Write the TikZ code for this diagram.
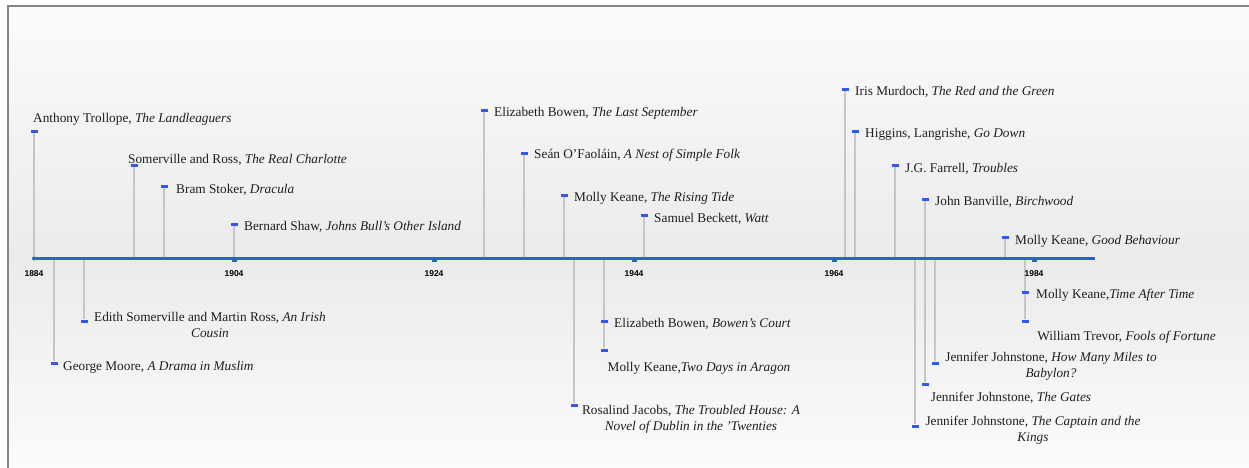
\documentclass[tikz,border=0pt]{standalone}
\usepackage{fontspec}
\usetikzlibrary{backgrounds}
\setmainfont{Liberation Serif}
\newfontfamily\yrfamily{Liberation Sans}
\newcommand{\labfont}{\fontsize{13.3}{16}\selectfont}
\newcommand{\yrfont}{\yrfamily\bfseries\fontsize{8.5}{10}\selectfont}
\definecolor{axisblue}{HTML}{2F62C8}
\definecolor{mkblue}{HTML}{3656F2}
\definecolor{stemgray}{HTML}{C6C6C6}
\definecolor{framegray}{HTML}{858585}
\definecolor{txt}{HTML}{1E1E1E}
\definecolor{bgtop}{HTML}{FBFBFB}
\definecolor{bgmid}{HTML}{EBEBEB}
\begin{document}
\begin{tikzpicture}[x=1pt,y=-1pt,
  lab/.style={font=\labfont, text=txt, inner sep=0pt, anchor=base west},
  labc/.style={font=\labfont, text=txt, inner sep=0pt, align=center},
  mk/.style={rectangle, fill=mkblue, minimum width=7pt, minimum height=3pt, inner sep=0pt},
  stem/.style={draw=stemgray, line width=1.4pt},
  yr/.style={font=\yrfont, text=black, inner sep=0pt},
  axisline/.style={draw=axisblue, line width=3pt},
  ytick/.style={fill=axisblue}]
\useasboundingbox (0,0) rectangle (1249,468);

% axis coordinates
\coordinate (ax0) at (34,258);
\coordinate (axE) at (1095,258);
\foreach \n/\x in {a1/34,a2/134,a3/164,a4/234,a5/484,a6/524,a7/564,a8/644,a9/845,a10/855,a11/895,a12/925,a13/1005,
  b14/54,b15/84,b16/574,b17/604,b19/935,b20/925,b21/915,b22/1025}
  {\coordinate (\n) at (\x,258);}

% markers
\node[mk] (m1) at (34,131) {};
\node[mk] (m2) at (134,165) {};
\node[mk] (m3) at (164,186) {};
\node[mk] (m4) at (234,224) {};
\node[mk] (m5) at (484,110.5) {};
\node[mk] (m6) at (524,153) {};
\node[mk] (m7) at (564,195) {};
\node[mk] (m8) at (644,215) {};
\node[mk] (m9) at (845,89.5) {};
\node[mk] (m10) at (855,131.5) {};
\node[mk] (m11) at (895,165.5) {};
\node[mk] (m12) at (925,199) {};
\node[mk] (m13) at (1005,237) {};
\node[mk] (m14) at (54,363) {};
\node[mk] (m15) at (84,321) {};
\node[mk] (m16) at (574,405) {};
\node[mk] (m17) at (604,321) {};
\node[mk] (m18) at (604,350) {};
\node[mk] (m19) at (935,363) {};
\node[mk] (m20) at (925,384) {};
\node[mk] (m21) at (915,426) {};
\node[mk] (m22) at (1025,292) {};
\node[mk] (m23) at (1025,321) {};

\begin{scope}[on background layer]
  % background
  \fill[white] (0,0) rectangle (1249,468);
  \shade[top color=bgtop, bottom color=bgmid] (8,6) rectangle (1249,258);
  \shade[top color=bgmid, bottom color=bgtop] (8,258) rectangle (1249,468);
  \draw[framegray, line width=2pt] (8,468) -- (8,6) -- (1249,6);
  % stems
  \foreach \a/\m in {a1/m1,a2/m2,a3/m3,a4/m4,a5/m5,a6/m6,a7/m7,a8/m8,a9/m9,a10/m10,a11/m11,a12/m12,a13/m13,
    b14/m14,b15/m15,b16/m16,b17/m18,b19/m19,b20/m20,b21/m21,b22/m23}
    {\draw[stem] (\a) -- (\m);}
  % axis
  \draw[axisline] (ax0) -- (axE);
  \foreach \x in {234,434,634,834,1034}{\fill[ytick] (\x-2.5,259) rectangle (\x+2.5,261.5);}
  \fill[ytick] (34,258.5) circle (2pt);
\end{scope}

% year labels
\node[yr] (y1884) at (34,274) {1884};
\node[yr] (y1904) at (234,274) {1904};
\node[yr] (y1924) at (434,274) {1924};
\node[yr] (y1944) at (634,274) {1944};
\node[yr] (y1964) at (834,274) {1964};
\node[yr] (y1984) at (1034,274) {1984};

% labels above
\node[lab] (l1) at (33,122.5) {Anthony Trollope, \textit{The Landleaguers}};
\node[lab] (l2) at (128,163.5) {Somerville and Ross, \textit{The Real Charlotte}};
\node[lab] (l3) at (176,193) {Bram Stoker, \textit{Dracula}};
\node[lab] (l4) at (244,230.5) {Bernard Shaw, \textit{Johns Bull’s Other Island}};
\node[lab] (l5) at (494,117) {Elizabeth Bowen, \textit{The Last September}};
\node[lab] (l6) at (534,158) {Seán O’Faoláin, \textit{A Nest of Simple Folk}};
\node[lab] (l7) at (574,201) {Molly Keane, \textit{The Rising Tide}};
\node[lab] (l8) at (654,222.5) {Samuel Beckett, \textit{Watt}};
\node[lab] (l9) at (855,96) {Iris Murdoch, \textit{The Red and the Green}};
\node[lab] (l10) at (865,138) {Higgins, Langrishe, \textit{Go Down}};
\node[lab] (l11) at (905,172) {J.G. Farrell, \textit{Troubles}};
\node[lab] (l12) at (935,205.5) {John Banville, \textit{Birchwood}};
\node[lab] (l13) at (1015,244) {Molly Keane, \textit{Good Behaviour}};

% labels below
\node[lab] (l14) at (63,370.5) {George Moore, \textit{A Drama in Muslim}};
\node[labc] (l15) at (210,324.5) {Edith Somerville and Martin Ross, \textit{An Irish}\\\textit{Cousin}};
\node[labc] (l16) at (691,419.5) {Rosalind Jacobs, \textit{The Troubled House: A}\\\textit{Novel of Dublin in the ’Twenties}};
\node[lab] (l17) at (614,327.5) {Elizabeth Bowen, \textit{Bowen’s Court}};
\node[lab, anchor=base] (l18) at (699,371.5) {Molly Keane,\textit{Two Days in Aragon}};
\node[labc] (l19) at (1051,366) {Jennifer Johnstone, \textit{How Many Miles to}\\\textit{Babylon?}};
\node[lab, anchor=base] (l20) at (1011,401) {Jennifer Johnstone, \textit{The Gates}};
\node[labc] (l21) at (1033,430) {Jennifer Johnstone, \textit{The Captain and the}\\\textit{Kings}};
\node[lab] (l22) at (1036,298.5) {Molly Keane,\textit{Time After Time}};
\node[lab, anchor=base] (l23) at (1126.5,340) {William Trevor, \textit{Fools of Fortune}};
\end{tikzpicture}
\end{document}
